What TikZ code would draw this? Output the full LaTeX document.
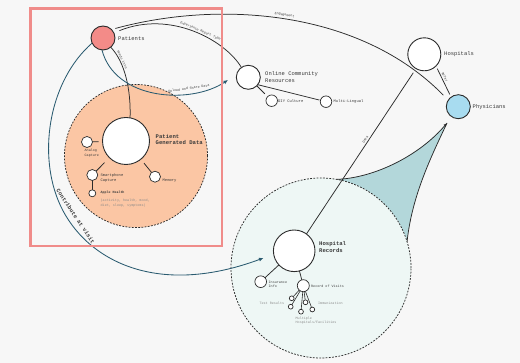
\documentclass[tikz,border=0pt]{standalone}
\usepackage{fontspec}
\setmonofont{Liberation Mono}
\usetikzlibrary{arrows.meta}
\pgfdeclarelayer{back}
\pgfdeclarelayer{shade}
\pgfdeclarelayer{zones}
\pgfdeclarelayer{edges}
\pgfsetlayers{back,shade,zones,edges,main}

\definecolor{paper}{HTML}{F7F7F7}
\definecolor{framecol}{HTML}{F08C8A}
\definecolor{peach}{HTML}{FBC6A4}
\definecolor{mint}{HTML}{EEF7F5}
\definecolor{tealfill}{HTML}{B3D7DA}
\definecolor{coral}{HTML}{F38B88}
\definecolor{sky}{HTML}{A8DCF0}
\definecolor{ink}{HTML}{2B2B2B}
\definecolor{flow}{HTML}{2A5B70}
\definecolor{txt}{HTML}{3A3A3A}
\definecolor{faint}{HTML}{8A8A8A}

\begin{document}
\begin{tikzpicture}[x=1pt,y=-1pt,
  hubnode/.style={circle,draw=ink,fill=white,line width=0.9pt,inner sep=0pt,outer sep=0pt,minimum size=#1},
  leafnode/.style={circle,draw=ink,fill=white,line width=0.7pt,inner sep=0pt,outer sep=0pt,minimum size=#1},
  zonecircle/.style={circle,draw=ink,line width=0.75pt,dash pattern=on 1.8pt off 1.4pt,inner sep=0pt,outer sep=0pt,minimum size=#1},
  inkline/.style={draw=ink,line width=0.75pt},
  flowline/.style={draw=flow,line width=0.85pt},
  titletext/.style={font=\ttfamily\fontsize{5.5}{6.7}\selectfont,text=txt,anchor=west,inner sep=0pt,align=left},
  boldtitle/.style={titletext,font=\ttfamily\bfseries\fontsize{5.6}{6.4}\selectfont},
  smalltext/.style={font=\ttfamily\fontsize{3.4}{4.6}\selectfont,text=txt,anchor=west,inner sep=0pt,align=left},
  midtext/.style={smalltext,font=\ttfamily\fontsize{3.8}{5}\selectfont},
  greytext/.style={smalltext,text=faint},
  edgetext/.style={font=\ttfamily\fontsize{3.3}{4}\selectfont,text=txt,inner sep=0pt,sloped},
]
% page
\begin{pgfonlayer}{back}
  \fill[paper] (0,0) rectangle (520,363);
\end{pgfonlayer}
\useasboundingbox (0,0) rectangle (520,363);

% dashed zones
\begin{pgfonlayer}{zones}
  \node[zonecircle=143,fill=peach] (pzone) at (136,156) {};
  \node[zonecircle=180,fill=mint] (hrzone) at (321,268) {};
\end{pgfonlayer}

% circles
\node[hubnode=24,fill=coral] (pat) at (103,38) {};
\node[hubnode=47] (pgd) at (126,141) {};
\node[leafnode=11] (analog) at (87,142) {};
\node[leafnode=11] (smart) at (92.3,175) {};
\node[leafnode=7] (apple) at (92.3,193.3) {};
\node[leafnode=11] (memory) at (155,176.7) {};
\node[hubnode=24] (ocr) at (248.3,77.3) {};
\node[leafnode=11.5] (diy) at (271.7,100.7) {};
\node[leafnode=11.5] (mlt) at (326,101.7) {};
\node[hubnode=33] (hosp) at (424.3,54.3) {};
\node[hubnode=24,fill=sky] (phy) at (458.3,106.7) {};
\node[hubnode=41.6] (hr) at (294.2,250.8) {};
\node[leafnode=11.7] (ins) at (260.7,281.7) {};
\node[leafnode=12] (rov) at (303.3,285.7) {};
\node[leafnode=4.8] (v1) at (291.7,298.3) {};
\node[leafnode=4.8] (v2) at (290.7,306.7) {};
\node[leafnode=4.8] (v3) at (305.5,302.3) {};
\node[leafnode=4.8] (v4) at (301,311.7) {};
\node[leafnode=4.8] (v5) at (312.3,309.5) {};

% free arrow ends
\coordinate (uptip) at (228,80);
\coordinate (hrtip) at (263.5,258);
\coordinate (shtip) at (447,123);

% shaded wedge between the records zone and the physicians
\begin{pgfonlayer}{shade}
  \fill[tealfill] (hrzone.80) .. controls (375,178) and (420,155) .. (shtip)
    .. controls (432,155) and (412,195) .. (hrzone.17)
    arc[start angle=-17,end angle=-80,radius=90] -- cycle;
\end{pgfonlayer}

\begin{pgfonlayer}{edges}
  % patient flows
  \draw[inkline] (pat.-50) .. controls (125,62) and (131,90) .. (pgd.80)
    node[edgetext,pos=0.25,above=1pt] (tfeeds) {Feeds into};
  \draw[flowline,-{Latex[length=4.5pt,width=4pt]}] (pat.-95) .. controls (115,100) and (190,105) .. (uptip)
    node[edgetext,pos=0.72,above=3pt] (tupload) {Upload and Share Data};
  \draw[inkline,shorten <=6pt] (pat.25) .. controls (170,10) and (225,40) .. (ocr.125)
    node[edgetext,pos=0.55,above=1.2pt] (texp) {Experience Report Type};
  \draw[inkline,shorten <=4pt,shorten >=7pt] (pat.45) .. controls (220,0) and (360,10) .. (phy.147)
    node[edgetext,pos=0.49,above=2.5pt] (teng) {Engagement};
  \draw[flowline,-{Latex[length=4.5pt,width=4pt]}] (pat.205) .. controls (50,80) and (38,150) .. (58,200)
    .. controls (80,255) and (150,300) .. (hrtip)
    node[edgetext,pos=0.13,above=5.5pt,font=\ttfamily\bfseries\fontsize{5.6}{6}\selectfont] (tvisit) {Contribute at visit};

  % institutions
  \draw[inkline,shorten <=3pt,shorten >=3pt] (hosp.-45) -- (phy.127)
    node[edgetext,pos=0.4,above=1.5pt] (trefer) {Refer};
  \draw[inkline,shorten >=5pt] (hr.54) -- (hosp.240)
    node[edgetext,pos=0.56,above=1.5pt] (tdata) {Data};

  % wedge outline
  \draw[inkline,-{Latex[length=3.5pt,width=3pt]}] (hrzone.80) .. controls (375,178) and (420,155) .. (shtip);
  \draw[inkline] (shtip) .. controls (432,155) and (412,195) .. (hrzone.17);

  % branches
  \draw[inkline,shorten >=4pt] (analog) -- (pgd);
  \draw[inkline,shorten >=7pt] (smart) -- (pgd);
  \draw[inkline,shorten <=5pt] (pgd) -- (memory);
  \draw[inkline] (smart) -- (apple);
  \draw[inkline,shorten >=4pt] (ocr) -- (diy);
  \draw[inkline,shorten >=1pt] (ocr.-38) -- (mlt);
  \draw[inkline] (hr) -- (ins);
  \draw[inkline] (hr) -- (rov);
  \foreach \v in {v1,v2,v3,v4,v5}
    \draw[inkline,line width=0.6pt] (rov) -- (\v);

  % patient-side frame
  \draw[framecol,line width=2.3pt] (30.5,8.5) rectangle (222,246);
\end{pgfonlayer}

% labels
\node[titletext] (patlbl) at (118,39) {Patients};
\node[boldtitle] (pgdlbl) at (155.5,139.7) {Patient\\Generated Data};
\node[smalltext] (analoglbl) at (84.5,153.2) {Analog\\Capture};
\node[midtext] (smartlbl) at (100.3,178.2) {Smartphone\\Capture};
\node[midtext] (memlbl) at (162.5,180.7) {Memory};
\node[smalltext,font=\ttfamily\bfseries\fontsize{3.3}{4.4}\selectfont] (applelbl) at (100.5,192.3) {Apple Health};
\node[greytext] (applenote) at (100.5,203) {(activity, health, mood,\\diet, sleep, symptoms)};
\node[titletext] (ocrlbl) at (265,76.7) {Online Community\\Resources};
\node[midtext] (diylbl) at (278,100.7) {DIY Culture};
\node[midtext] (mltlbl) at (333.5,101.7) {Multi-Lingual};
\node[titletext] (hosplbl) at (444,54.3) {Hospitals};
\node[titletext] (phylbl) at (472.5,106.7) {Physicians};
\node[boldtitle,font=\ttfamily\bfseries\fontsize{5.6}{7.2}\selectfont] (hrlbl) at (319,247.3) {Hospital\\Records};
\node[smalltext,font=\ttfamily\fontsize{3.4}{4.2}\selectfont] (inslbl) at (268.5,284.3) {Insurance\\Info};
\node[smalltext] (rovlbl) at (311,286.7) {Record of Visits};
\node[greytext,anchor=east] (testlbl) at (284.3,303.7) {Test Results};
\node[greytext] (immlbl) at (318,303.7) {Immunization};
\node[greytext] (multlbl) at (295.5,320.5) {Multiple\\Hospitals/Facilities};
\end{tikzpicture}
\end{document}
